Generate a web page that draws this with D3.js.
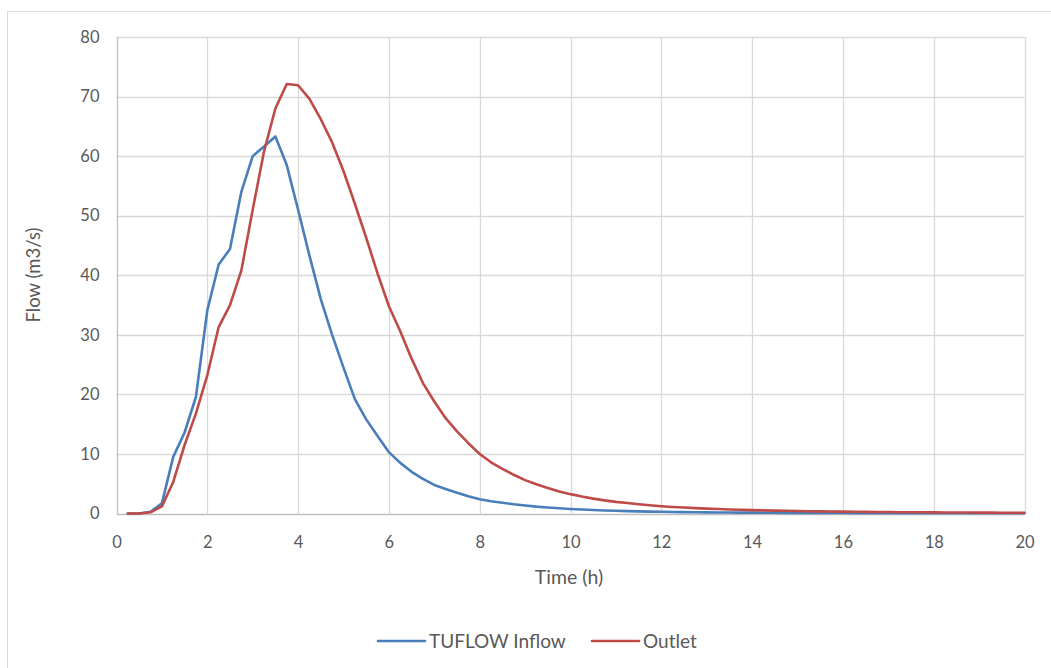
<!DOCTYPE html>
<html><head><meta charset="utf-8">
<script src="https://cdn.jsdelivr.net/npm/d3@7"></script>
<style>html,body{margin:0;padding:0;background:#fff;}svg{display:block;}</style>
</head><body>
<script>
const time = [0.25,0.5,0.75,1,1.25,1.5,1.75,2,2.25,2.5,2.75,3,3.25,3.5,3.75,4,4.25,4.5,4.75,5,
5.25,5.5,5.75,6,6.25,6.5,6.75,7,7.25,7.5,7.75,8,8.25,8.5,8.75,9,9.25,9.5,9.75,10,
10.25,10.5,10.75,11,11.25,11.5,11.75,12,12.25,12.5,12.75,13,13.25,13.5,13.75,14,14.25,14.5,14.75,15,
15.25,15.5,15.75,16,16.25,16.5,16.75,17,17.25,17.5,17.75,18,18.25,18.5,18.75,19,19.25,19.5,19.75,20];
const inflow = [0,0,0.3,1.7,9.5,13.6,19.6,34.1,41.8,44.4,54.0,60.0,61.6,63.3,58.5,51.0,43.3,36.0,30.0,24.5,
19.2,15.8,13.0,10.3,8.5,7.0,5.8,4.8,4.1,3.5,2.9,2.4,2.05,1.8,1.55,1.35,1.15,1.0,0.88,0.75,
0.66,0.58,0.5,0.45,0.4,0.36,0.32,0.29,0.26,0.23,0.21,0.19,0.17,0.16,0.15,0.14,0.13,0.12,0.11,0.1,
0.09,0.09,0.08,0.08,0.07,0.07,0.06,0.06,0.06,0.05,0.05,0.05,0.05,0.04,0.04,0.04,0.04,0.04,0.03,0.03];
const outlet = [0,0,0.2,1.2,5.3,11.5,16.8,23.2,31.3,35.0,40.8,51.0,60.8,68.0,72.1,71.9,69.6,66.2,62.3,57.5,
52.0,46.3,40.3,34.8,30.6,26.0,21.9,18.8,16.0,13.8,11.8,10.0,8.6,7.5,6.5,5.6,4.9,4.3,3.7,3.25,
2.85,2.5,2.2,1.95,1.75,1.55,1.38,1.22,1.1,1.0,0.9,0.82,0.75,0.68,0.62,0.56,0.52,0.48,0.45,0.42,
0.39,0.36,0.34,0.32,0.3,0.28,0.26,0.24,0.22,0.21,0.2,0.19,0.18,0.17,0.16,0.15,0.14,0.13,0.12,0.11];
const xTicks = [0,2,4,6,8,10,12,14,16,18,20];
const yTicks = [0,10,20,30,40,50,60,70,80];
const seriesNames = ["TUFLOW Inflow","Outlet"];
const seriesColors = ["#4a7ebb","#be4b48"];

const W = 1051, H = 668;
const svg = d3.select("body").append("svg").attr("width", W).attr("height", H);
const font = "Lato, 'Open Sans', sans-serif";
const txt = "#595959";

// chart border (only top/left visible)
svg.append("rect").attr("x",7.5).attr("y",11.5).attr("width",W+20).attr("height",H+20)
  .attr("fill","none").attr("stroke","#d9d9d9").attr("stroke-width",1);

const x = d3.scaleLinear().domain([0,20]).range([116.5,1024.5]);
const y = d3.scaleLinear().domain([0,80]).range([513.5,37]);

// grid
svg.append("g").selectAll("line").data(yTicks.filter(d=>d>0)).join("line")
  .attr("x1",x(0)).attr("x2",x(20)).attr("y1",d=>Math.round(y(d))+0.5).attr("y2",d=>Math.round(y(d))+0.5)
  .attr("stroke","#d9d9d9").attr("stroke-width",1.3);
svg.append("g").selectAll("line").data(xTicks).join("line")
  .attr("x1",d=>Math.round(x(d))+0.5).attr("x2",d=>Math.round(x(d))+0.5).attr("y1",y(80)).attr("y2",y(0))
  .attr("stroke",d=>d===0?"#bfbfbf":"#d9d9d9").attr("stroke-width",1.3);
svg.append("line").attr("x1",x(0)).attr("x2",x(20)).attr("y1",Math.round(y(0))+0.5).attr("y2",Math.round(y(0))+0.5)
  .attr("stroke","#bfbfbf").attr("stroke-width",1.3);

// axes labels via d3 axes
const yAxis = svg.append("g").attr("transform",`translate(${x(0)},0)`)
  .call(d3.axisLeft(y).tickValues(yTicks).tickSize(0).tickPadding(17));
const xAxis = svg.append("g").attr("transform",`translate(0,${y(0)})`)
  .call(d3.axisBottom(x).tickValues(xTicks).tickSize(0).tickPadding(23));
[yAxis,xAxis].forEach(a=>{
  a.select(".domain").remove();
  a.selectAll("text").attr("fill",txt).style("font-family",font).style("font-size","16.5px");
});

// titles
svg.append("text").attr("x",569).attr("y",584).attr("text-anchor","middle")
  .attr("fill",txt).style("font-family",font).style("font-size","19.5px").text("Time (h)");
svg.append("text").attr("transform","translate(40,275) rotate(-90)").attr("text-anchor","middle")
  .attr("fill",txt).style("font-family",font).style("font-size","18.5px").text("Flow (m3/s)");

// lines
const line = d3.line().x((d,i)=>x(time[i])).y(d=>y(d));
[inflow,outlet].forEach((s,k)=>{
  svg.append("path").datum(s).attr("d",line).attr("fill","none")
    .attr("stroke",seriesColors[k]).attr("stroke-width",2.6).attr("stroke-linejoin","round").attr("stroke-linecap","round");
});

// legend
const legX = [378,592];
seriesNames.forEach((n,k)=>{
  svg.append("line").attr("x1",legX[k]).attr("x2",legX[k]+47).attr("y1",641).attr("y2",641)
    .attr("stroke",seriesColors[k]).attr("stroke-width",2.6).attr("stroke-linecap","round");
  svg.append("text").attr("x",legX[k]+51).attr("y",647.5).attr("fill",txt)
    .style("font-family",font).style("font-size","19px").text(n);
});
</script>
</body></html>
